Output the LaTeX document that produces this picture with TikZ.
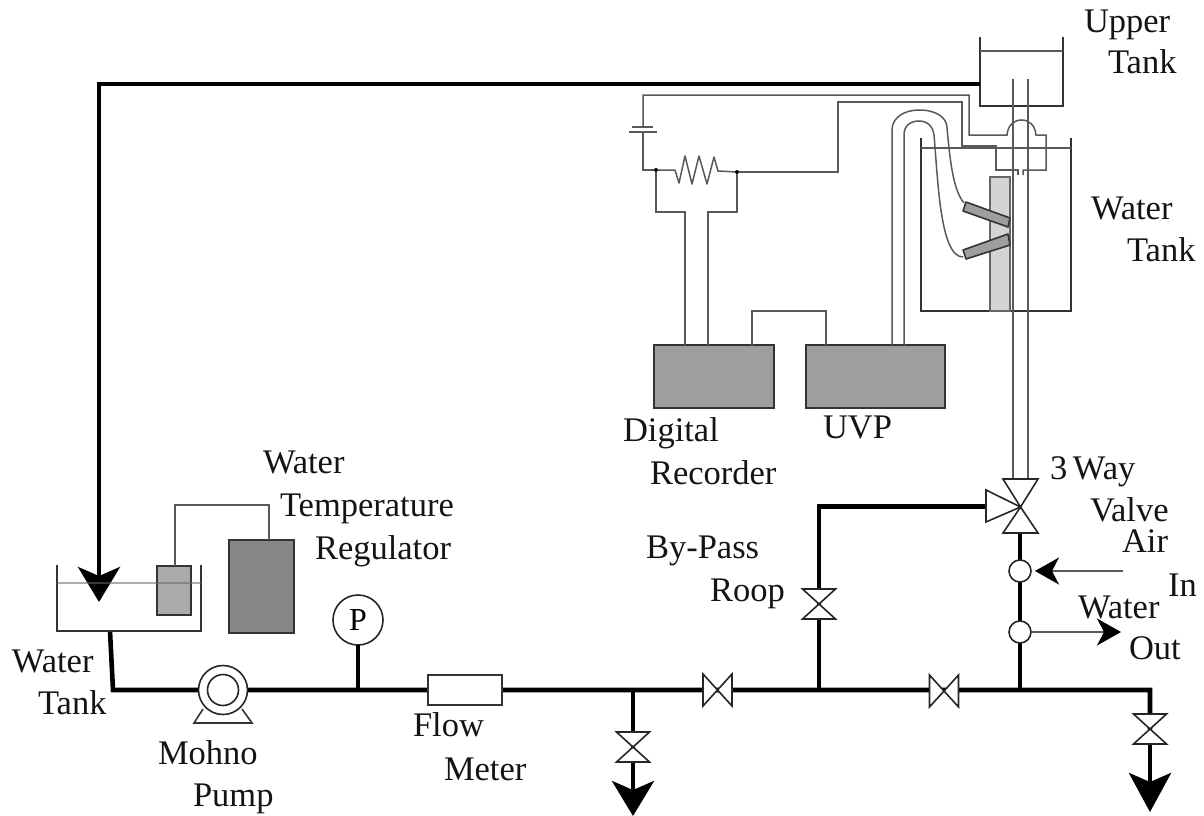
\documentclass[tikz,border=0pt]{standalone}
\usepackage{fontspec}
\setmainfont{Liberation Serif}
\usetikzlibrary{arrows.meta,calc}
\tikzset{
  lbl/.style={anchor=base west,inner sep=0pt,outer sep=0pt,font=\fontsize{34.5}{40}\selectfont,text=black!92},
  pipe/.style={line width=4.6pt,black,line join=miter},
  wire/.style={line width=1.5pt,black!65,line join=miter},
  outl/.style={line width=1.6pt,black!80},
  box/.style={draw=black!80,line width=1.6pt,inner sep=0pt,outer sep=0pt,anchor=north west},
  cir/.style={circle,draw=black!85,line width=1.6pt,fill=white,inner sep=0pt,outer sep=0pt},
  bigtip/.style={-{Stealth[length=35pt,width=42pt,inset=9pt]}},
  longtip/.style={-{Stealth[length=39pt,width=42pt,inset=9pt]}},
  midtip/.style={-{Stealth[length=24pt,width=27pt,inset=7pt,color=black]}},
  valveshape/.style={draw=black!85,line width=1.6pt,fill=white,line join=miter},
  pt/.style={circle,fill=black,inner sep=0pt,minimum size=4pt},
}
\newcommand{\vvalve}[1]{% bases top and bottom
  \draw[valveshape] ($(#1)+(-16.5,-15)$) -- ($(#1)+(16.5,-15)$) -- ($(#1)+(-16.5,15)$) -- ($(#1)+(16.5,15)$) -- cycle;}
\newcommand{\hvalve}[1]{% bases left and right
  \draw[valveshape] ($(#1)+(-14.5,-16)$) -- ($(#1)+(-14.5,16)$) -- ($(#1)+(14.5,-16)$) -- ($(#1)+(14.5,16)$) -- cycle;}
\begin{document}
\begin{tikzpicture}[x=1pt,y=-1pt]
\path[use as bounding box] (0,0) rectangle (1204,816);

% ---------- upper tank and measuring tank
\node[box,minimum width=150pt,minimum height=173pt,draw=none] (wt) at (921,138) {};
\draw[outl] (wt.north west) -- (wt.south west) -- (wt.south east) -- (wt.north east);
\draw[wire] ($(wt.north west)+(0,10)$) -- ($(wt.north east)+(0,10)$);
\node[box,minimum width=20pt,minimum height=134pt,fill=black!17,draw=black!60] (strip) at (990,177) {};

\node[box,minimum width=83pt,minimum height=69pt,draw=none] (ut) at (980,37) {};
\draw[outl] (ut.north west) -- (ut.south west) -- (ut.south east) -- (ut.north east);
\draw[wire] ($(ut.north west)+(0,14)$) -- ($(ut.north east)+(0,14)$);

% ---------- main coordinates
\coordinate (v3) at (1020,507);
\coordinate (bend1) at (99,84);
\coordinate (tip1) at (99,602);
\coordinate (out1) at (110,631);
\coordinate (c1) at (113,690);
\coordinate (pumpc) at (223,690);
\coordinate (gt) at (358,690);
\coordinate (d1) at (633,690);
\coordinate (vA) at (717.5,690);
\coordinate (b1) at (819,690);
\coordinate (vB) at (944,691);
\coordinate (j2) at (1020,690);
\coordinate (e1) at (1150,690);
\coordinate (vD1) at (633,747);
\coordinate (vD2) at (1150,729);
\coordinate (vBy) at (819,604);
\coordinate (b2) at (819,506.5);
\coordinate (tipD1) at (633,816);
\coordinate (tipD2) at (1150,812);

% ---------- pipes in the measuring section
\draw[wire] (1013,79) -- (1013,479);
\draw[wire] (1028,79) -- (1028,479);

% ---------- thick pipes
\draw[pipe,bigtip] (ut.west |- 0,84) -- (bend1) -- (tip1);
\draw[pipe] (out1) -- (c1) -- (e1) -- (vD2);
\draw[pipe,longtip] (vD2) -- (tipD2);
\draw[pipe] (d1) -- (vD1);
\draw[pipe,bigtip] (vD1) -- (tipD1);
\draw[pipe] (b1) -- (b2) -- ($(v3)+(-34,-0.5)$);
\draw[pipe] (j2) -- ($(v3)+(0,26)$);

% ---------- lower tank
\node[box,minimum width=144pt,minimum height=66pt,draw=none] (lt) at (57,565) {};
\draw[outl] (lt.north west) -- (lt.south west) -- (lt.south east) -- (lt.north east);
\node[box,minimum width=34pt,minimum height=49pt,fill=black!33] (heater) at (157,566) {};
\draw[line width=1.5pt,black!60,opacity=.55] ($(lt.north west)+(0,18)$) -- ($(lt.north east)+(0,18)$);
\node[box,minimum width=65pt,minimum height=93pt,fill=black!47] (reg) at (229,540) {};
\coordinate (hw1) at (175,505);
\coordinate (hw2) at (269,505);
\draw[wire] (heater.north -| hw1) -- (hw1) -- (hw2) -- (reg.north -| hw2);

% ---------- pump
\draw[outl] (203,709) -- (194,723) -- (252,723) -- (242,709);
\node[cir,minimum size=49pt] (pump) at (pumpc) {};
\node[cir,minimum size=31pt] (pumpin) at (pumpc) {};

% ---------- gauge
\node[cir,minimum size=50pt,font=\fontsize{32}{38}\selectfont] (gauge) at (358,620) {P};
\draw[pipe] (gauge.south) -- (gt);

% ---------- flow meter
\node[box,fill=white,minimum width=74pt,minimum height=30pt] (fm) at (428,675) {};

% ---------- valves
\hvalve{vA}
\hvalve{vB}
\vvalve{vD1}
\vvalve{vD2}
\vvalve{vBy}
\draw[valveshape] (1003,479) -- (1038,479) -- (1020.5,507) -- (1003,533) -- (1038,533) -- (1020.5,507) -- cycle;
\draw[valveshape] (986,490) -- (986,522) -- (1020.5,507) -- cycle;

% ---------- air and water ports
\node[cir,minimum size=22pt] (air) at (1020,571) {};
\node[cir,minimum size=22pt] (wat) at (1020,632) {};
\coordinate (airin) at (1123,571);
\coordinate (watout) at (1121,632);
\draw[wire,line width=1.6pt,midtip,shorten >=4pt] (airin) -- (air.east);
\draw[wire,line width=1.6pt,midtip] (wat.east) -- (watout);

% ---------- instruments
\node[box,fill=black!38,minimum width=120pt,minimum height=63pt] (rec) at (654,345) {};
\node[box,fill=black!38,minimum width=139pt,minimum height=63pt] (uvp) at (806,345) {};
\draw[wire] (rec.north -| 752,0) -- (752,311) -- (826,311) -- (uvp.north -| 826,0);

% ---------- electric circuit
\coordinate (nL) at (656,170);
\coordinate (nR) at (737,172);
\node[pt] (jL) at (nL) {};
\node[pt] (jR) at (nR) {};
\draw[wire] (1018,175) -- (1018,170) -- (996,170) -- (996,146) -- (962,146) -- (962,102) -- (838,102) -- (838,172) -- (jR);
\draw[wire] (1023,175) -- (1023,170) -- (1046,170) -- (1046,135) -- (1036,135)
  .. controls (1035,125) and (1029,120) .. (1021.5,120) .. controls (1014,120) and (1008,125) .. (1007,135)
  -- (969,135) -- (969,95) -- (643,95) -- (643,127);
\draw[wire] (632,127) -- (653,127);
\draw[wire] (629,132) -- (657,132);
\draw[wire] (643,132) -- (643,170) -- (jL);
\draw[wire,line join=round] (jL) -- (675,170) -- (679,183) -- (685,156) -- (692,184) -- (699,156) -- (707,184) -- (714,157) -- (718,171) -- (jR);
\draw[wire] (jL) -- (656,212) -- (685,212) -- (rec.north -| 685,0);
\draw[wire] (jR) -- (737,212) -- (708,212) -- (rec.north -| 708,0);

% ---------- sensor cables
\draw[wire] (uvp.north -| 892,0) -- (892,130) .. controls (892,117) and (905,110) .. (919,110)
  .. controls (937,110) and (947,118) .. (947,128) .. controls (950,160) and (953,190) .. (964,203);
\draw[wire] (uvp.north -| 904,0) -- (904,135) .. controls (904,126) and (910,121) .. (919,121)
  .. controls (928,121) and (933,127) .. (934,135) .. controls (938,180) and (940,257) .. (963,257);

% ---------- sensors
\node[coordinate] (s1) at (966,202) {};
\node[coordinate] (s2) at (963,250) {};
\draw[outl,fill=black!38,line join=round] (s1) -- (1010,218) -- (1008,227) -- (963,211) -- cycle;
\draw[outl,fill=black!38,line join=round] (s2) -- (1008,234) -- (1010,245) -- (966,259) -- cycle;

% ---------- labels
\node[lbl] (t1) at (1084,33) {Upper};
\node[lbl] (t2) at (1108,74) {Tank};
\node[lbl] (t3) at (1091,219) {Water};
\node[lbl] (t4) at (1127,261) {Tank};
\node[lbl] (t5) at (623,441) {Digital};
\node[lbl] (t6) at (650,484) {Recorder};
\node[lbl] (t7) at (823,438) {UVP};
\node[lbl] (t8) at (1050,479) {3\,Way};
\node[lbl] (t9) at (1090,521) {Valve};
\node[lbl] (t10) at (1122,552) {Air};
\node[lbl] (t11) at (1168,596) {In};
\node[lbl] (t12) at (1078,618) {Water};
\node[lbl] (t13) at (1129,659) {Out};
\node[lbl] (t14) at (263,473) {Water};
\node[lbl] (t15) at (280,516) {Temperature};
\node[lbl] (t16) at (315,559) {Regulator};
\node[lbl] (t17) at (646,558) {By-Pass};
\node[lbl] (t18) at (710,601) {Roop};
\node[lbl] (t19) at (12,672) {Water};
\node[lbl] (t20) at (38,714) {Tank};
\node[lbl] (t21) at (158,764) {Mohno};
\node[lbl] (t22) at (193,806) {Pump};
\node[lbl] (t23) at (413,736) {Flow};
\node[lbl] (t24) at (444,780) {Meter};
\end{tikzpicture}
\end{document}
